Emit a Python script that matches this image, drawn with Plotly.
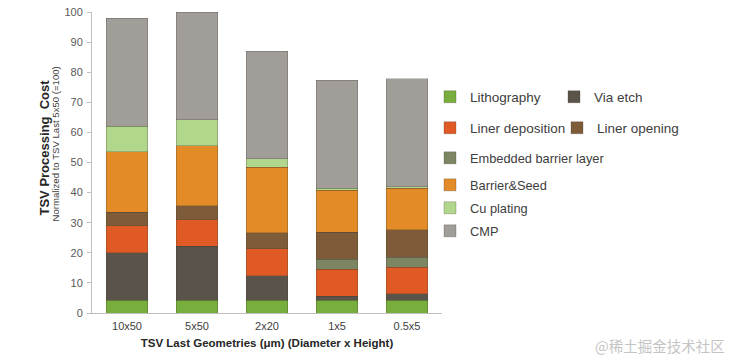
import plotly.graph_objects as go

categories = ["10x50", "5x50", "2x20", "1x5", "0.5x5"]
lithography = [4.2, 4.2, 4.2, 4.2, 4.2]
via_etch = [15.8, 18.0, 8.2, 1.4, 2.2]
liner_deposition = [9.0, 8.8, 8.9, 9.0, 8.8]
embedded_barrier = [0, 0, 0, 3.3, 3.4]
liner_opening = [4.5, 4.6, 5.3, 9.0, 9.0]
barrier_seed = [20.0, 20.0, 21.8, 13.8, 13.8]
cu_plating = [8.5, 8.6, 2.8, 0.8, 0.6]
cmp = [36.0, 35.8, 35.7, 35.8, 35.8]
y_ticks = [0, 10, 20, 30, 40, 50, 60, 70, 80, 90, 100]

W, H = 732, 361
L, R, T, B = 92, 290, 12, 48
PW, PH = W - L - R, H - T - B

FONT = "Arial, 'Liberation Sans', sans-serif"

# (name, values, color, legend id, legend text px x, legend y px, font size)
series = [
    ("Lithography", lithography, "#78ae3e", "legend", 472, 97, 13.5),
    ("Via etch", via_etch, "#5a5349", "legend2", 596, 97, 13.5),
    ("Liner deposition", liner_deposition, "#e05a26", "legend3", 472, 128, 13.5),
    ("Embedded barrier layer", embedded_barrier, "#7c8663", "legend5", 472, 158, 12.8),
    ("Liner opening", liner_opening, "#7e5c3a", "legend4", 599, 128, 13.5),
    ("Barrier&Seed", barrier_seed, "#e38b27", "legend6", 472, 185, 12.8),
    ("Cu plating", cu_plating, "#b1d78d", "legend7", 472, 208, 12.8),
    ("CMP", cmp, "#a19d99", "legend8", 472, 231, 12.8),
]

fig = go.Figure()
legends = {}
for name, vals, color, lg, tx, ty, fs in series:
    fig.add_trace(go.Bar(
        x=categories, y=vals, name=name, legend=lg,
        marker=dict(color=color, line=dict(color="rgba(70,60,50,0.35)", width=0.8)),
    ))
    legends[lg] = dict(
        x=(tx - 42) / W, y=1 - ty / H, xref="container", yref="container",
        xanchor="left", yanchor="middle", bgcolor="rgba(0,0,0,0)", borderwidth=0,
        font=dict(family=FONT, size=fs, color="#404040"),
        itemclick=False, itemdoubleclick=False,
    )

fig.update_layout(
    barmode="stack",
    bargap=0.414,
    width=W, height=H,
    margin=dict(l=L, r=R, t=T, b=B, pad=0, autoexpand=False),
    paper_bgcolor="white", plot_bgcolor="white",
    font=dict(family=FONT, color="#404040"),
    showlegend=True,
    **legends,
)

fig.update_xaxes(
    showline=True, linecolor="#bfbfbf", linewidth=1,
    ticks="", showgrid=False, ticklabelstandoff=3,
    tickfont=dict(family=FONT, size=11, color="#404040"),
    title=dict(text="<b>TSV Last Geometries (μm) (Diameter x Height)</b>",
               font=dict(family=FONT, size=11.5, color="#262626"), standoff=7),
)
fig.update_yaxes(
    range=[0, 100], tickvals=y_ticks,
    showline=True, linecolor="#bfbfbf", linewidth=1,
    ticks="outside", ticklen=4, tickcolor="#bfbfbf",
    showgrid=False, zeroline=False, ticklabelstandoff=2,
    tickfont=dict(family=FONT, size=11, color="#595959"),
)

def px_x(p):
    return (p - L) / PW

def px_y(p):
    return (H - B - p) / PH

fig.add_annotation(
    text="<b>TSV Processing\u00a0 Cost</b>", textangle=-90,
    x=px_x(44), y=px_y(147.5), xref="paper", yref="paper",
    xanchor="center", yanchor="middle", showarrow=False,
    font=dict(family=FONT, size=13, color="#262626"),
)
fig.add_annotation(
    text="Normalized to TSV Last 5x50 (=100)", textangle=-90,
    x=px_x(55), y=px_y(144.5), xref="paper", yref="paper",
    xanchor="center", yanchor="middle", showarrow=False,
    font=dict(family=FONT, size=9.6, color="#404040"),
)
fig.add_annotation(
    text="@稀土掘金技术社区",
    x=px_x(727), y=px_y(345), xref="paper", yref="paper",
    xanchor="right", yanchor="middle", showarrow=False,
    font=dict(family="'Noto Sans CJK SC', sans-serif", size=14.5, color="#c4c4c4"),
)

fig.write_html(
    "out.html",
    config={"displayModeBar": False},
    post_script="document.body.style.margin='0';document.body.style.overflow='hidden';",
)
